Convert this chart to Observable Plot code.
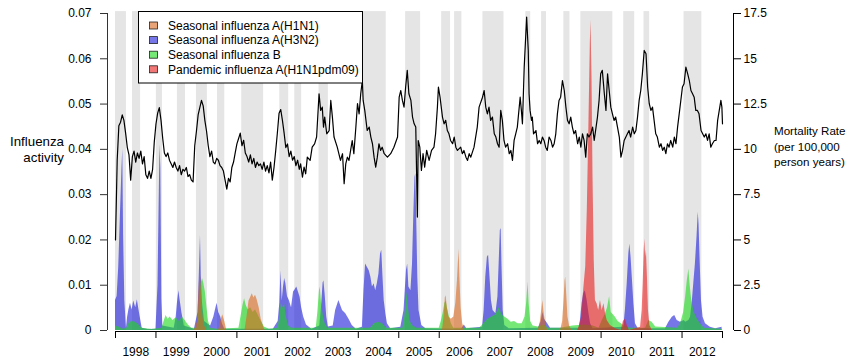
<!DOCTYPE html>
<html><head><meta charset="utf-8">
<script src="https://cdn.jsdelivr.net/npm/d3@7"></script>
<script src="https://cdn.jsdelivr.net/npm/@observablehq/plot@0.6"></script>
<style>body{margin:0;background:#fff} svg{display:block}</style>
</head><body><div id="chart"></div>
<script>
// ---------- data ----------
const yearLabels = ["1998","1999","2000","2001","2002","2003","2004","2005","2006","2007","2008","2009","2010","2011","2012"];
const leftTicks = [0, 0.01, 0.02, 0.03, 0.04, 0.05, 0.06, 0.07];
const rightTicks = [0, 2.5, 5, 7.5, 10, 12.5, 15, 17.5];
const seriesNames = ["Seasonal influenza A(H1N1)", "Seasonal influenza A(H3N2)", "Seasonal influenza B", "Pandemic influenza A(H1N1pdm09)"];

// influenza epidemic periods (shaded)
const bands = [[1998.00,1998.27],[1998.42,1998.62],[1999.01,1999.16],[1999.53,1999.73],[2000.00,2000.27],[2000.52,2000.70],[2001.12,2001.66],[2002.06,2002.28],[2002.43,2002.60],[2003.03,2003.26],[2004.13,2004.69],[2005.17,2005.54],[2006.06,2006.28],[2006.38,2006.56],[2007.08,2007.60],[2008.14,2008.26],[2008.53,2008.65],[2009.08,2009.23],[2009.50,2010.29],[2010.56,2010.83],[2011.06,2011.20],[2012.05,2012.49]];

// influenza activity: [decimal year, proxy]
const h3n2 = [
[1998.00,0.0066],[1998.04,0.0075],[1998.08,0.014],[1998.12,0.025],[1998.16,0.036],[1998.18,0.040],[1998.20,0.021],[1998.23,0.0066],[1998.27,0.0005],[1998.30,0.003],[1998.33,0.0045],[1998.37,0.006],[1998.41,0.0045],[1998.45,0.0065],[1998.50,0.005],[1998.54,0.0068],[1998.58,0.0045],[1998.62,0.0025],[1998.66,0.0005],[1998.80,0.0002],
[1999.00,0.0003],[1999.05,0.010],[1999.08,0.029],[1999.10,0.041],[1999.12,0.036],[1999.145,0.007],[1999.17,0.001],[1999.45,0.0005],[1999.50,0.003],[1999.53,0.006],[1999.565,0.0088],[1999.60,0.0065],[1999.64,0.004],[1999.70,0.001],
[1999.95,0.0003],[2000.04,0.004],[2000.07,0.012],[2000.10,0.021],[2000.12,0.012],[2000.15,0.006],[2000.20,0.002],[2000.35,0.001],[2000.43,0.003],[2000.47,0.0045],[2000.51,0.006],[2000.55,0.004],[2000.60,0.003],[2000.64,0.0015],[2000.70,0.0003],
[2001.90,0.0003],[2002.02,0.002],[2002.06,0.006],[2002.09,0.0132],[2002.12,0.0065],[2002.15,0.0095],[2002.18,0.0115],[2002.21,0.0103],[2002.25,0.0075],[2002.30,0.0065],[2002.35,0.005],[2002.40,0.0085],[2002.44,0.009],[2002.48,0.0096],[2002.52,0.0085],[2002.56,0.0074],[2002.60,0.005],[2002.65,0.003],[2002.72,0.0012],[2002.85,0.0003],
[2003.05,0.001],[2003.09,0.005],[2003.13,0.0105],[2003.15,0.011],[2003.18,0.008],[2003.22,0.003],[2003.26,0.0008],[2003.38,0.001],[2003.44,0.0044],[2003.52,0.0066],[2003.61,0.0044],[2003.69,0.0037],[2003.77,0.0025],[2003.85,0.0011],[2003.95,0.0003],
[2004.10,0.0007],[2004.14,0.0088],[2004.18,0.0147],[2004.22,0.014],[2004.27,0.0132],[2004.31,0.0118],[2004.35,0.0096],[2004.39,0.0103],[2004.43,0.0088],[2004.47,0.0103],[2004.51,0.0125],[2004.55,0.0169],[2004.58,0.0177],[2004.61,0.0118],[2004.64,0.0066],[2004.68,0.0037],[2004.72,0.0015],[2004.80,0.0004],
[2005.05,0.0007],[2005.13,0.0044],[2005.19,0.0132],[2005.22,0.0147],[2005.25,0.0096],[2005.30,0.0088],[2005.34,0.0147],[2005.37,0.025],[2005.40,0.0338],[2005.42,0.0346],[2005.44,0.0265],[2005.47,0.0118],[2005.50,0.0044],[2005.57,0.0011],[2005.67,0.0004],
[2006.55,0.0003],[2006.62,0.0012],[2006.68,0.0004],
[2007.07,0.0007],[2007.11,0.0044],[2007.15,0.0118],[2007.19,0.0162],[2007.22,0.0166],[2007.25,0.0125],[2007.29,0.0066],[2007.33,0.0044],[2007.40,0.0037],[2007.45,0.0074],[2007.48,0.0147],[2007.51,0.0221],[2007.53,0.0225],[2007.55,0.0147],[2007.58,0.0044],[2007.62,0.0011],[2007.73,0.0004],
[2008.45,0.0005],[2008.52,0.002],[2008.56,0.004],[2008.60,0.0025],[2008.68,0.0015],[2008.75,0.0005],
[2009.45,0.0005],[2009.49,0.0022],[2009.53,0.0059],[2009.57,0.0081],[2009.61,0.0088],[2009.655,0.0066],[2009.70,0.0037],[2009.74,0.0015],[2009.80,0.0004],
[2010.56,0.0007],[2010.60,0.0044],[2010.645,0.0103],[2010.685,0.0169],[2010.71,0.0191],[2010.74,0.0162],[2010.77,0.0118],[2010.81,0.0059],[2010.85,0.0015],[2010.92,0.0004],
[2011.59,0.0004],[2011.675,0.0018],[2011.76,0.0029],[2011.82,0.0033],[2011.88,0.0022],[2011.96,0.0018],[2012.05,0.0022],[2012.09,0.0018],[2012.17,0.0022],[2012.21,0.0029],[2012.25,0.0059],[2012.29,0.0103],[2012.33,0.0147],[2012.37,0.0206],[2012.40,0.0261],[2012.42,0.0235],[2012.45,0.0147],[2012.48,0.0066],[2012.52,0.0029],[2012.58,0.0015],[2012.70,0.0007],[2012.83,0.0004],[2012.99,0.0007]
];
const fluB = [
[1998.00,0.001],[1998.08,0.0008],[1998.20,0.0003],[1998.28,0.0005],[1998.35,0.0018],[1998.45,0.002],[1998.55,0.0015],[1998.65,0.0005],[1998.90,0.0002],
[1999.15,0.0005],[1999.20,0.002],[1999.25,0.0033],[1999.30,0.0025],[1999.35,0.003],[1999.42,0.0022],[1999.50,0.0028],[1999.58,0.002],[1999.65,0.003],[1999.72,0.0022],[1999.80,0.0012],[1999.88,0.0005],
[2000.02,0.0005],[2000.06,0.004],[2000.09,0.008],[2000.12,0.0105],[2000.15,0.0115],[2000.18,0.0105],[2000.22,0.0085],[2000.26,0.005],[2000.30,0.002],[2000.35,0.0005],[2000.50,0.0003],
[2001.05,0.0005],[2001.10,0.003],[2001.15,0.0055],[2001.19,0.007],[2001.23,0.0055],[2001.28,0.0045],[2001.34,0.005],[2001.40,0.004],[2001.46,0.0045],[2001.52,0.0035],[2001.60,0.002],[2001.68,0.0008],[2001.80,0.0003],
[2002.02,0.0005],[2002.06,0.003],[2002.10,0.006],[2002.14,0.005],[2002.18,0.0058],[2002.22,0.003],[2002.28,0.001],[2002.35,0.0005],
[2002.96,0.0005],[2003.00,0.004],[2003.04,0.0088],[2003.06,0.0096],[2003.09,0.006],[2003.13,0.0035],[2003.18,0.0015],[2003.25,0.0005],
[2004.30,0.0005],[2004.40,0.0015],[2004.50,0.0018],[2004.60,0.0015],[2004.70,0.0005],
[2005.10,0.0005],[2005.15,0.003],[2005.19,0.007],[2005.21,0.0085],[2005.24,0.005],[2005.28,0.002],[2005.35,0.001],[2005.45,0.0005],
[2006.00,0.0005],[2006.05,0.002],[2006.10,0.004],[2006.14,0.006],[2006.17,0.0065],[2006.20,0.005],[2006.25,0.003],[2006.30,0.0015],[2006.36,0.0005],
[2007.00,0.0005],[2007.10,0.0015],[2007.20,0.0025],[2007.30,0.003],[2007.40,0.0035],[2007.48,0.005],[2007.55,0.0035],[2007.62,0.003],[2007.70,0.0025],[2007.78,0.0018],[2007.86,0.002],[2007.95,0.0015],
[2008.05,0.0015],[2008.12,0.003],[2008.16,0.006],[2008.195,0.0107],[2008.22,0.006],[2008.26,0.002],[2008.32,0.001],[2008.45,0.0008],[2008.60,0.0012],[2008.70,0.0005],
[2009.00,0.0005],[2009.30,0.001],[2009.60,0.0012],[2009.80,0.001],[2009.95,0.0005],
[2010.02,0.002],[2010.10,0.0035],[2010.16,0.005],[2010.21,0.0075],[2010.25,0.004],[2010.30,0.0035],[2010.35,0.003],[2010.42,0.002],[2010.50,0.0015],[2010.60,0.0008],[2010.75,0.0005],
[2011.10,0.0005],[2011.18,0.0022],[2011.26,0.0018],[2011.35,0.0008],
[2011.90,0.0005],[2011.98,0.002],[2012.04,0.004],[2012.09,0.0075],[2012.13,0.011],[2012.17,0.0136],[2012.20,0.010],[2012.24,0.0065],[2012.30,0.004],[2012.38,0.0025],[2012.45,0.0015],[2012.55,0.0005],[2013.00,0.0003]
];
const h1n1 = [
[1999.95,0],[2000.03,0.002],[2000.06,0.008],[2000.09,0.014],[2000.11,0.011],[2000.14,0.005],[2000.18,0.0015],[2000.25,0],
[2000.55,0],[2000.60,0.002],[2000.65,0.0035],[2000.70,0.002],[2000.75,0],
[2001.20,0],[2001.25,0.003],[2001.30,0.0065],[2001.35,0.0075],[2001.38,0.0081],[2001.42,0.0072],[2001.46,0.0078],[2001.50,0.0068],[2001.55,0.005],[2001.60,0.0025],[2001.66,0.0008],[2001.70,0],
[2006.08,0],[2006.12,0.003],[2006.15,0.0072],[2006.17,0.0077],[2006.20,0.005],[2006.24,0.003],[2006.30,0.0025],[2006.36,0.003],[2006.41,0.006],[2006.45,0.011],[2006.49,0.018],[2006.51,0.012],[2006.54,0.005],[2006.58,0.0015],[2006.63,0],
[2008.45,0],[2008.50,0.002],[2008.54,0.005],[2008.56,0.0066],[2008.59,0.004],[2008.63,0.0015],[2008.68,0],
[2009.00,0],[2009.05,0.002],[2009.08,0.006],[2009.11,0.011],[2009.125,0.0118],[2009.15,0.008],[2009.18,0.003],[2009.22,0.001],[2009.28,0]
];
const pdm09 = [
[2009.42,0],[2009.47,0.001],[2009.52,0.003],[2009.57,0.009],[2009.62,0.014],[2009.66,0.027],[2009.70,0.046],[2009.735,0.064],[2009.75,0.0685],[2009.775,0.056],[2009.80,0.034],[2009.83,0.0155],[2009.86,0.0066],[2009.90,0.0059],[2009.94,0.0044],[2009.985,0.0066],[2010.025,0.0044],[2010.07,0.0059],[2010.11,0.0037],[2010.15,0.0022],[2010.23,0.0011],[2010.36,0.0004],[2010.50,0],[2010.55,0.002],[2010.60,0.0025],[2010.65,0.001],[2010.70,0],
[2010.975,0.0007],[2011.015,0.0044],[2011.04,0.0103],[2011.065,0.0177],[2011.08,0.0202],[2011.10,0.0162],[2011.12,0.0177],[2011.145,0.0118],[2011.17,0.0044],[2011.205,0.0011],[2011.26,0.0001]
];

// mortality rate (per 100,000 person years): [decimal year, rate]
const mort1998_2002 = [
[1998.000,5.0],[1998.042,9.4],[1998.083,11.3],[1998.125,11.5],[1998.167,11.9],[1998.208,11.6],[1998.250,10.9],[1998.292,10.1],[1998.333,9.7],[1998.375,8.3],[1998.417,9.6],[1998.458,9.9],[1998.500,9.3],[1998.542,9.8],[1998.583,9.5],[1998.625,9.9],[1998.667,9.2],[1998.708,9.6],[1998.750,8.6],[1998.792,8.4],[1998.833,8.8],[1998.875,8.4],[1998.917,8.9],[1998.958,10.4],
[1999.000,11.4],[1999.042,12.0],[1999.083,12.3],[1999.125,11.6],[1999.167,10.6],[1999.208,9.8],[1999.250,9.6],[1999.292,9.8],[1999.333,9.4],[1999.375,9.2],[1999.417,9.0],[1999.458,9.3],[1999.500,9.0],[1999.542,8.8],[1999.583,9.1],[1999.625,8.6],[1999.667,8.9],[1999.708,8.8],[1999.750,9.0],[1999.792,8.5],[1999.833,8.6],[1999.875,8.3],[1999.917,8.2],[1999.958,10.2],
[2000.000,11.0],[2000.042,11.9],[2000.083,12.3],[2000.125,12.7],[2000.167,12.4],[2000.208,11.6],[2000.250,11.0],[2000.292,10.2],[2000.333,9.6],[2000.375,9.9],[2000.417,9.3],[2000.458,9.2],[2000.500,9.5],[2000.542,9.4],[2000.583,9.1],[2000.625,9.0],[2000.667,8.8],[2000.708,8.3],[2000.750,7.8],[2000.792,8.4],[2000.833,8.2],[2000.875,9.0],[2000.917,9.3],[2000.958,9.8],
[2001.000,10.3],[2001.042,10.6],[2001.083,10.9],[2001.125,10.2],[2001.167,10.5],[2001.208,9.8],[2001.250,9.6],[2001.292,9.3],[2001.333,9.7],[2001.375,9.2],[2001.417,9.5],[2001.458,9.0],[2001.500,9.3],[2001.542,9.1],[2001.583,9.2],[2001.625,8.9],[2001.667,9.3],[2001.708,8.8],[2001.750,9.1],[2001.792,8.7],[2001.833,9.3],[2001.875,8.3],[2001.917,9.0],[2001.958,9.9],
[2002.000,10.9],[2002.042,12.0],[2002.083,12.2],[2002.125,11.6],[2002.167,10.9],[2002.208,10.1],[2002.250,10.3],[2002.292,9.6],[2002.333,9.9],[2002.375,9.4],[2002.417,9.6],[2002.458,9.1],[2002.500,9.4],[2002.542,8.9]
];
const mort2002_2007 = [
[2002.575,9.2],[2002.62,8.47],[2002.66,9.02],[2002.70,8.65],[2002.74,9.57],[2002.81,9.39],[2002.86,10.12],[2002.92,10.3],[2002.97,10.68],[2003.03,13.07],[2003.07,12.15],[2003.11,12.33],[2003.14,11.23],[2003.17,11.78],[2003.22,10.86],[2003.28,11.04],[2003.32,12.7],[2003.36,11.78],[2003.40,10.68],[2003.48,10.12],[2003.56,9.39],[2003.61,9.76],[2003.65,8.1],[2003.69,9.2],[2003.73,9.57],[2003.77,9.39],[2003.81,9.94],[2003.85,10.49],[2003.89,9.76],[2003.94,11.23],[2003.98,12.52],
[2004.02,11.96],[2004.06,13.07],[2004.10,13.8],[2004.12,12.7],[2004.16,12.15],[2004.22,11.04],[2004.27,11.23],[2004.31,10.68],[2004.35,10.31],[2004.39,9.57],[2004.43,9.02],[2004.47,9.57],[2004.51,10.31],[2004.55,9.94],[2004.59,10.12],[2004.64,9.76],[2004.72,9.57],[2004.80,9.76],[2004.88,10.12],[2004.97,10.68],
[2005.01,12.88],[2005.05,13.25],[2005.09,12.7],[2005.13,12.33],[2005.17,13.44],[2005.21,14.36],[2005.25,13.07],[2005.30,12.7],[2005.34,11.78],[2005.38,11.41],[2005.42,11.23],[2005.46,6.26],[2005.48,10.49],[2005.52,10.12],[2005.56,8.84],[2005.60,9.76],[2005.64,9.02],[2005.69,9.94],[2005.75,9.39],[2005.81,9.94],[2005.87,10.12],[2005.91,10.86],[2005.955,12.33],[2005.98,13.44],
[2006.02,12.88],[2006.08,11.78],[2006.12,11.41],[2006.16,11.6],[2006.20,11.04],[2006.24,10.86],[2006.28,10.49],[2006.33,10.31],[2006.37,10.68],[2006.41,10.12],[2006.45,9.94],[2006.53,10.12],[2006.57,9.76],[2006.61,9.94],[2006.66,9.57],[2006.70,9.39],[2006.74,9.76],[2006.78,9.57],[2006.86,10.12],[2006.94,11.23],[2006.985,12.33],
[2007.07,12.88],[2007.11,13.25],[2007.15,12.33],[2007.19,11.96],[2007.23,12.33],[2007.27,11.6],[2007.315,11.78],[2007.36,10.86],[2007.40,10.68],[2007.44,10.31],[2007.48,10.12],[2007.52,12.15],[2007.56,11.6],[2007.60,10.49],[2007.64,10.12],[2007.69,10.31],[2007.73,9.76],[2007.77,9.94],[2007.81,9.39],[2007.85,10.49],[2007.89,10.86],[2007.93,11.23],[2008.00,12.88]
];
const mort2008_2012 = [
[2008.03,12.15],[2008.056,11.41],[2008.10,14.54],[2008.14,16.38],[2008.16,17.3],[2008.20,15.46],[2008.22,13.07],[2008.245,12.15],[2008.28,11.6],[2008.30,11.78],[2008.33,10.86],[2008.39,11.04],[2008.43,10.31],[2008.47,10.49],[2008.51,10.31],[2008.55,10.68],[2008.59,10.49],[2008.63,10.12],[2008.67,9.94],[2008.715,10.68],[2008.76,10.49],[2008.80,10.12],[2008.84,10.31],[2008.88,10.86],[2008.92,11.96],[2008.96,12.7],
[2009.00,12.88],[2009.045,13.8],[2009.09,13.25],[2009.13,12.33],[2009.17,11.6],[2009.21,11.41],[2009.25,11.78],[2009.29,11.23],[2009.33,10.86],[2009.37,11.04],[2009.42,10.31],[2009.46,10.68],[2009.50,10.12],[2009.54,10.86],[2009.58,10.49],[2009.62,9.57],[2009.66,10.86],[2009.70,10.68],[2009.745,10.86],[2009.79,11.23],[2009.83,10.49],[2009.91,11.78],[2009.95,12.7],[2009.99,14.17],
[2010.03,14.36],[2010.08,13.07],[2010.12,12.15],[2010.16,14.17],[2010.20,13.25],[2010.24,12.33],[2010.28,11.96],[2010.32,11.6],[2010.36,11.78],[2010.405,11.23],[2010.45,10.68],[2010.49,9.57],[2010.53,9.94],[2010.57,10.49],[2010.65,10.86],[2010.69,11.04],[2010.73,10.68],[2010.78,11.23],[2010.82,10.86],[2010.86,11.04],[2010.90,11.78],[2010.94,12.7],[2010.98,13.25],
[2011.02,14.17],[2011.065,15.46],[2011.11,15.28],[2011.15,13.44],[2011.19,12.52],[2011.23,12.15],[2011.27,12.33],[2011.31,11.6],[2011.35,10.86],[2011.39,10.68],[2011.44,10.12],[2011.48,10.31],[2011.52,9.94],[2011.56,10.12],[2011.60,9.76],[2011.64,10.31],[2011.68,10.12],[2011.72,10.49],[2011.77,10.12],[2011.81,10.68],[2011.85,10.31],[2011.89,11.23],[2011.93,11.96],[2011.97,12.7],
[2012.01,13.44],[2012.05,13.62],[2012.095,14.54],[2012.14,14.17],[2012.18,13.8],[2012.22,13.25],[2012.26,13.07],[2012.30,12.88],[2012.34,12.15],[2012.38,12.15],[2012.42,11.96],[2012.47,11.04],[2012.51,10.86],[2012.55,10.68],[2012.59,10.86],[2012.63,10.49],[2012.67,10.86],[2012.71,10.12],[2012.75,10.31],[2012.80,10.49],[2012.84,10.49],[2012.88,11.6],[2012.92,12.15],[2012.96,12.7],[2012.985,12.33],[2013.00,11.41]
];

// ---------- chart ----------
const fluMax = 0.07, mortMax = 17.5;
const k = fluMax / mortMax; // mortality -> left-axis units
const mortality = mort1998_2002.concat(mort2002_2007, mort2008_2012);
const firstYear = +yearLabels[0], lastYear = +yearLabels[yearLabels.length - 1] + 1;
const yearEdges = d3.range(firstYear, lastYear + 1);
const yearMids = yearLabels.map(y => +y + 0.5);
const colors = {h1n1: "#d8661a", h3n2: "#1a1ad8", b: "#1ad81a", pdm: "#e81a1a"};
const alpha = 0.6;
const font = "'Liberation Sans', Arial, Helvetica, sans-serif";

const X = d => d[0], Y = d => d[1];
const chart = Plot.plot({
  width: 849, height: 358,
  marginLeft: 115, marginRight: 127, marginTop: 13, marginBottom: 28,
  x: {domain: [firstYear, lastYear]},
  y: {domain: [0, fluMax]},
  style: {fontFamily: font, fontSize: "12px", color: "#000", background: "#fff", overflow: "visible"},
  marks: [
    Plot.rect(bands, {x1: d => d[0], x2: d => d[1], y1: 0, y2: fluMax * 1.006, fill: "#e5e5e5"}),
    Plot.areaY(h3n2, {x: X, y: Y, fill: colors.h3n2, fillOpacity: alpha}),
    Plot.areaY(fluB, {x: X, y: Y, fill: colors.b, fillOpacity: alpha}),
    Plot.areaY(h1n1, {x: X, y: Y, fill: colors.h1n1, fillOpacity: alpha}),
    Plot.areaY(pdm09, {x: X, y: Y, fill: colors.pdm, fillOpacity: alpha}),
    Plot.line(mortality, {x: X, y: d => d[1] * k, stroke: "#000", strokeWidth: 1.2}),
    // left axis
    Plot.ruleX([firstYear], {y1: 0, y2: fluMax, dx: -8, stroke: "#333"}),
    Plot.axisY({ticks: leftTicks, tickFormat: d => d === 0 ? "0" : d.toFixed(2), tickSize: 7, tickPadding: 9, dx: -8, label: null, stroke: "#333", fontSize: 12}),
    // right axis
    Plot.ruleX([lastYear], {y1: 0, y2: fluMax, dx: 11, stroke: "#000"}),
    Plot.axisY({anchor: "right", ticks: rightTicks.map(m => m * k), tickFormat: v => String(Math.round(v / k * 10) / 10), tickSize: 7, tickPadding: 3, dx: 11, label: null, fontSize: 12}),
    // bottom axis
    Plot.ruleY([0], {x1: firstYear, x2: lastYear, dy: 1, stroke: "#000"}),
    Plot.axisX({ticks: yearEdges, tickSize: 7, tickFormat: () => "", dy: 1, label: null}),
    Plot.axisX({ticks: yearMids, tickSize: 0, tickPadding: 17, tickFormat: d => yearLabels[Math.floor(d) - firstYear], label: null, fontSize: 12})
  ]
});
document.getElementById("chart").appendChild(chart);

// titles and legend
const svg = d3.select(chart);
const t = svg.append("g").attr("font-family", font).attr("fill", "#000");
const lt = t.append("text").attr("text-anchor", "end").attr("font-size", 13.3);
lt.append("tspan").attr("x", 64).attr("y", 145.5).text("Influenza");
lt.append("tspan").attr("x", 64).attr("y", 161.5).text("activity");
const rt = t.append("text").attr("text-anchor", "start").attr("font-size", 11.6);
["Mortality Rate", "(per 100,000", "person years)"].forEach((s, i) =>
  rt.append("tspan").attr("x", 774).attr("y", 135 + i * 15.5).text(s));

const lg = svg.append("g").attr("font-family", font).attr("text-anchor", "start");
lg.append("rect").attr("x", 138.5).attr("y", 11.5).attr("width", 224).attr("height", 71.5)
  .attr("fill", "#fff").attr("stroke", "#000");
const legendColors = [colors.h1n1, colors.h3n2, colors.b, colors.pdm];
seriesNames.forEach((name, i) => {
  const cy = 25.5 + i * 14.6;
  lg.append("rect").attr("x", 149.5).attr("y", cy - 3.5).attr("width", 8).attr("height", 7)
    .attr("fill", legendColors[i]).attr("fill-opacity", alpha).attr("stroke", "#222").attr("stroke-width", 0.8);
  lg.append("text").attr("x", 168).attr("y", cy).attr("dy", "0.36em").attr("font-size", 12)
    .attr("text-anchor", "start").attr("fill", "#000").text(name);
});
</script></body></html>
